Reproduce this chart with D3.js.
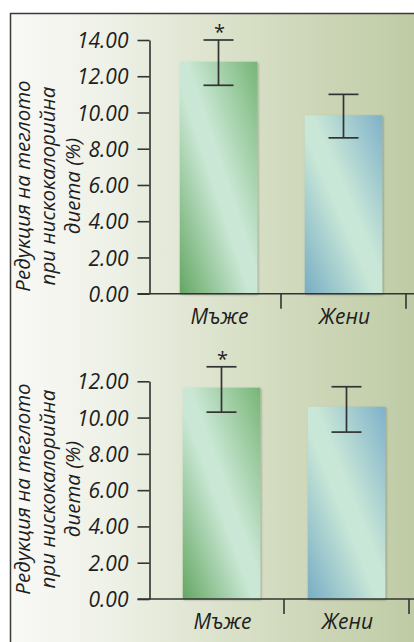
<!DOCTYPE html>
<html><head><meta charset="utf-8">
<script src="https://cdn.jsdelivr.net/npm/d3@7"></script>
<style>
html,body{margin:0;padding:0;background:#fff;}
svg{display:block;}
text{font-family:"Open Sans",sans-serif;font-style:italic;fill:#1e1e1e;}
</style></head><body>
<svg id="chart" width="414" height="642"></svg>
<script>
const categories = ["Мъже", "Жени"];
const significance = ["*", ""];
const panel1Values = [12.8, 9.85];
const panel1Upper = [14.0, 11.0];
const panel1Lower = [11.5, 8.6];
const panel1Ticks = [0, 2, 4, 6, 8, 10, 12, 14];
const panel2Values = [11.65, 10.6];
const panel2Upper = [12.8, 11.7];
const panel2Lower = [10.3, 9.2];
const panel2Ticks = [0, 2, 4, 6, 8, 10, 12];
const titleLines = ["Редукция на теглото", "при нискокалорийна", "диета (%)"];

const svg = d3.select("#chart");
const defs = svg.append("defs");

const bg = defs.append("linearGradient").attr("id","bg").attr("x1",0).attr("x2",1).attr("y1",0).attr("y2",0);
bg.append("stop").attr("offset",0).attr("stop-color","#f9f9f6");
bg.append("stop").attr("offset",0.25).attr("stop-color","#eef1e7");
bg.append("stop").attr("offset",0.6).attr("stop-color","#d6dec4");
bg.append("stop").attr("offset",1).attr("stop-color","#bfcba5");

function barGrad(id, dark1, pale, dark2){
  const g = defs.append("linearGradient").attr("id",id)
    .attr("x1",0).attr("y1",1).attr("x2",1).attr("y2",0);
  g.append("stop").attr("offset",0).attr("stop-color",dark1);
  g.append("stop").attr("offset",0.45).attr("stop-color",pale);
  g.append("stop").attr("offset",0.55).attr("stop-color",pale);
  g.append("stop").attr("offset",1).attr("stop-color",dark2);
}
barGrad("g0","#64a762","#c9e7d4","#77b575");
barGrad("g1","#77adc4","#c9e7d7","#7eb1c9");
const barFills = ["url(#g0)","url(#g1)"];

const f = defs.append("filter").attr("id","sh").attr("x","-10%").attr("y","-10%").attr("width","130%").attr("height","130%");
f.append("feDropShadow").attr("dx",1).attr("dy",1).attr("stdDeviation",1.2).attr("flood-color","#000").attr("flood-opacity",0.3);

// background & frame
svg.append("rect").attr("x",10).attr("y",13).attr("width",404).attr("height",629).attr("fill","url(#bg)");
svg.append("path").attr("d","M10.5,642 V13.5 H414").attr("fill","none").attr("stroke","#3a3a3a").attr("stroke-width",1.5);

function panel(opts){
  const {values, upper, lower, ticks, yRange, xRange, titleY, labelY} = opts;
  const g = svg.append("g");
  const y = d3.scaleLinear().domain([0, d3.max(ticks)]).range(yRange);
  const x = d3.scaleBand().domain(categories).range(xRange).paddingInner(0.38).paddingOuter(0.19);
  const axisX = 149.5;

  // bars
  g.selectAll("rect.bar").data(categories).join("rect")
    .attr("x", d => x(d)).attr("width", x.bandwidth())
    .attr("y", (d,i) => y(values[i])).attr("height", (d,i) => y(0) - y(values[i]))
    .attr("fill", (d,i) => barFills[i]).attr("filter","url(#sh)");

  // error bars
  const cx = d => x(d) + x.bandwidth()/2;
  const eb = g.selectAll("g.eb").data(categories).join("g").attr("stroke","#333").attr("stroke-width",1.7);
  eb.append("line").attr("x1",cx).attr("x2",cx).attr("y1",(d,i)=>y(upper[i])).attr("y2",(d,i)=>y(lower[i]));
  eb.append("line").attr("x1",d=>cx(d)-15).attr("x2",d=>cx(d)+15).attr("y1",(d,i)=>y(upper[i])).attr("y2",(d,i)=>y(upper[i]));
  eb.append("line").attr("x1",d=>cx(d)-15).attr("x2",d=>cx(d)+15).attr("y1",(d,i)=>y(lower[i])).attr("y2",(d,i)=>y(lower[i]));

  g.selectAll("text.star").data(categories).join("text")
    .attr("x", d => cx(d)+1).attr("y", (d,i) => y(upper[i]) - 1).attr("text-anchor","middle")
    .style("font-style","normal").attr("font-size",20).text((d,i)=>significance[i]);

  // y axis
  const ya = g.append("g").attr("transform",`translate(${axisX},0)`)
    .call(d3.axisLeft(y).tickValues(ticks).tickFormat(d3.format(".2f")).tickSize(12).tickSizeOuter(0).tickPadding(9));
  ya.selectAll("path,line").attr("stroke","#333").attr("stroke-width",1.6);
  ya.selectAll("text").attr("font-size",21).attr("fill","#1e1e1e").attr("font-family","Open Sans").style("font-style","italic").attr("dy","0.36em");

  // x axis
  g.append("line").attr("x1",axisX-12).attr("x2",414).attr("y1",y(0)).attr("y2",y(0)).attr("stroke","#333").attr("stroke-width",1.6);
  g.selectAll("line.xt").data(categories).join("line")
    .attr("x1", d => x(d) + x.bandwidth() + x.step()*x.paddingInner()/2)
    .attr("x2", d => x(d) + x.bandwidth() + x.step()*x.paddingInner()/2)
    .attr("y1", y(0)).attr("y2", y(0)+15).attr("stroke","#333").attr("stroke-width",1.6);
  g.selectAll("text.cat").data(categories).join("text")
    .attr("x", d => cx(d)+1).attr("y", labelY).attr("text-anchor","middle").attr("font-size",21).text(d=>d);

  // y title
  const t = g.append("text").attr("transform",`translate(30,${titleY}) rotate(-90)`).attr("text-anchor","middle").attr("font-size",20.5);
  t.selectAll("tspan").data(titleLines).join("tspan").attr("x",0).attr("dy",(d,i)=> i===0 ? 0 : 25).text(d=>d);
}

panel({values:panel1Values, upper:panel1Upper, lower:panel1Lower, ticks:panel1Ticks,
  yRange:[293.7, 40], xRange:[156, 406], titleY:186, labelY:324});
panel({values:panel2Values, upper:panel2Upper, lower:panel2Lower, ticks:panel2Ticks,
  yRange:[599, 381.3], xRange:[159, 409], titleY:489, labelY:629});
</script>
</body></html>
